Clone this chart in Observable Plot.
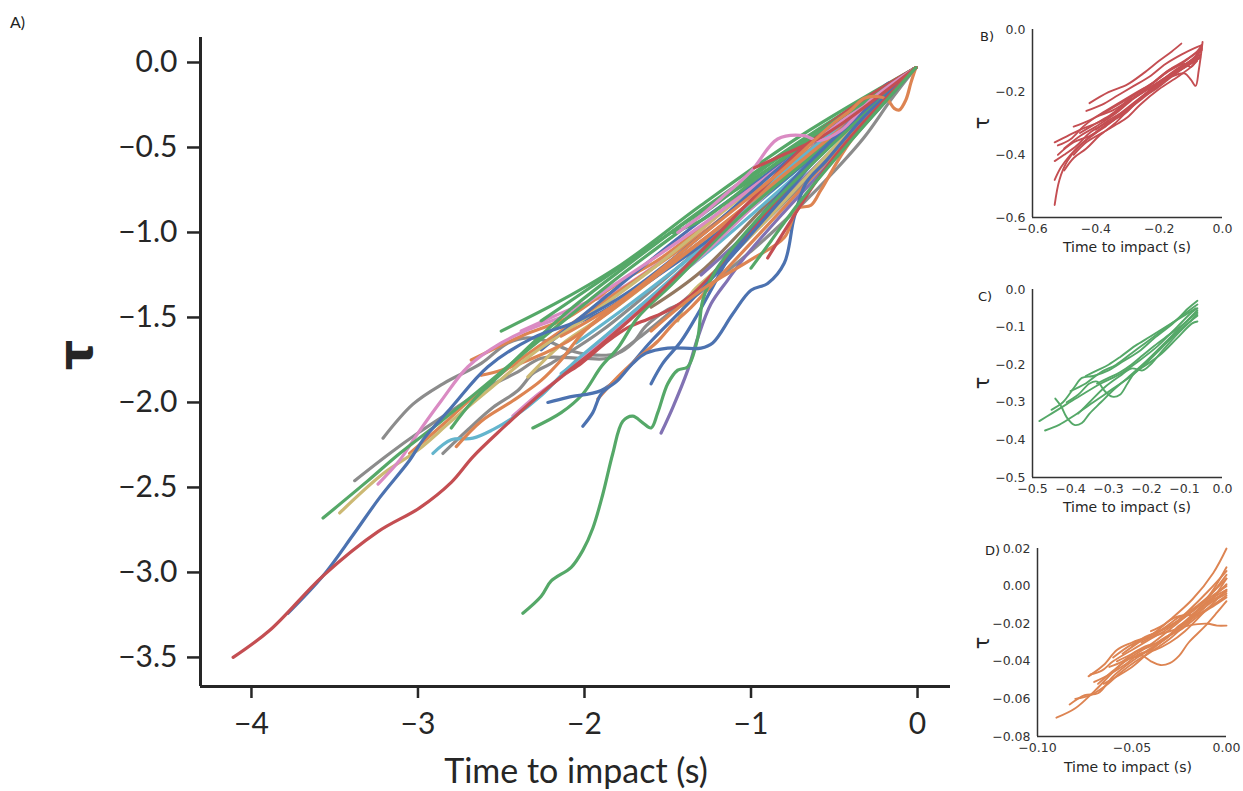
<!DOCTYPE html>
<html><head><meta charset="utf-8">
<script src="https://cdn.jsdelivr.net/npm/d3@7/dist/d3.min.js"></script>
<script src="https://cdn.jsdelivr.net/npm/@observablehq/plot@0.6/dist/plot.umd.min.js"></script>
<style>
body{margin:0;background:#fff;}
#wrap{position:relative;width:1243px;height:791px;overflow:hidden;background:#fff;}
.pane{position:absolute;}
.pane svg{overflow:visible;}
.lab{position:absolute;transform:translate(-50%,-50%);white-space:nowrap;line-height:1;color:#262626;}
.tag{position:absolute;white-space:nowrap;line-height:1;color:#222;}
</style></head><body><div id="wrap"></div>
<script>
// ---------- tick values ----------
const mainTicksX = [-4, -3, -2, -1, 0];
const mainTicksY = [0, -0.5, -1, -1.5, -2, -2.5, -3, -3.5];
const bTicks = [-0.6, -0.4, -0.2, 0];
const cTicks = [-0.5, -0.4, -0.3, -0.2, -0.1, 0];
const dTicksX = [-0.1, -0.05, 0];
const dTicksY = [0.02, 0, -0.02, -0.04, -0.06, -0.08];

// ---------- panel A trajectories [time to impact, tau] ----------
const red1 = [[-4.11,-3.50],[-3.89,-3.34],[-3.57,-3.02],[-3.24,-2.76],[-2.99,-2.62],[-2.80,-2.47],[-2.67,-2.32],[-2.49,-2.15],[-2.31,-1.99],[-2.14,-1.85],[-1.90,-1.66],[-1.60,-1.40],[-1.30,-1.11],[-0.94,-0.75],[-0.58,-0.40],[-0.28,-0.19],[-0.01,-0.03]];
const blue1 = [[-3.78,-3.24],[-3.57,-3.02],[-3.39,-2.78],[-3.23,-2.56],[-3.05,-2.34],[-2.97,-2.22],[-2.80,-2.03],[-2.58,-1.79],[-2.31,-1.62],[-2.04,-1.52],[-1.72,-1.34],[-1.30,-1.02],[-0.82,-0.61],[-0.40,-0.28],[-0.01,-0.03]];
const green1 = [[-3.57,-2.68],[-3.30,-2.46],[-3.11,-2.30],[-2.86,-2.11],[-2.61,-1.91],[-2.34,-1.69],[-2.10,-1.50],[-1.78,-1.25],[-1.30,-0.90],[-0.82,-0.55],[-0.40,-0.28],[-0.01,-0.03]];
const olive1 = [[-3.47,-2.65],[-3.21,-2.42],[-3.00,-2.28],[-2.80,-2.11],[-2.58,-1.93],[-2.32,-1.72],[-2.02,-1.52],[-1.60,-1.22],[-1.12,-0.84],[-0.58,-0.43],[-0.01,-0.03]];
const gray1 = [[-3.38,-2.46],[-3.17,-2.30],[-3.00,-2.18],[-2.80,-2.05],[-2.58,-1.91],[-2.40,-1.82],[-2.26,-1.74],[-2.02,-1.74],[-1.86,-1.74],[-1.77,-1.69],[-1.66,-1.61],[-1.51,-1.49],[-1.30,-1.31],[-0.94,-0.96],[-0.52,-0.55],[-0.01,-0.03]];
const pink1 = [[-3.24,-2.48],[-3.11,-2.34],[-3.00,-2.18],[-2.86,-1.99],[-2.70,-1.79],[-2.50,-1.65],[-2.31,-1.56],[-2.10,-1.48],[-1.78,-1.28],[-1.30,-0.96],[-0.70,-0.52],[-0.01,-0.03]];
const gray2 = [[-3.21,-2.21],[-3.03,-2.01],[-2.85,-1.89],[-2.62,-1.77],[-2.46,-1.65],[-2.34,-1.62],[-2.22,-1.64],[-2.10,-1.69],[-1.96,-1.72],[-1.80,-1.71],[-1.71,-1.65],[-1.63,-1.55],[-1.51,-1.46],[-1.36,-1.39],[-1.00,-1.11],[-0.70,-0.84],[-0.50,-0.64],[-0.32,-0.44],[-0.16,-0.22],[-0.01,-0.03]];
const cyan1 = [[-2.91,-2.30],[-2.80,-2.22],[-2.67,-2.21],[-2.55,-2.16],[-2.43,-2.09],[-2.26,-1.96],[-2.08,-1.78],[-1.84,-1.58],[-1.42,-1.22],[-0.82,-0.66],[-0.01,-0.03]];
const gray3 = [[-2.85,-2.30],[-2.70,-2.16],[-2.55,-2.03],[-2.40,-1.93],[-2.31,-1.83],[-2.20,-1.77],[-1.90,-1.58],[-1.42,-1.19],[-0.82,-0.66],[-0.01,-0.03]];
const orange1 = [[-2.77,-2.26],[-2.62,-2.11],[-2.43,-1.99],[-2.26,-1.87],[-2.14,-1.75],[-2.01,-1.59],[-1.78,-1.40],[-1.30,-1.05],[-0.70,-0.58],[-0.01,-0.03]];
const green2 = [[-2.80,-2.15],[-2.67,-1.99],[-2.50,-1.83],[-2.31,-1.65],[-2.07,-1.44],[-1.78,-1.22],[-1.30,-0.87],[-0.70,-0.46],[-0.01,-0.03]];
const green3 = [[-2.31,-2.15],[-2.14,-2.06],[-2.01,-1.95],[-1.90,-1.79],[-1.80,-1.68],[-1.68,-1.50],[-1.48,-1.31],[-1.06,-0.90],[-0.52,-0.46],[-0.01,-0.03]];
const blue2 = [[-2.01,-2.14],[-1.95,-2.06],[-1.90,-1.95],[-1.80,-1.87],[-1.71,-1.77],[-1.63,-1.71],[-1.50,-1.68],[-1.30,-1.68],[-1.23,-1.65],[-1.11,-1.48],[-1.00,-1.34],[-0.90,-1.30],[-0.80,-1.18],[-0.74,-0.91],[-0.67,-0.71],[-0.55,-0.58],[-0.34,-0.34],[-0.01,-0.03]];
const blue3 = [[-2.22,-2.00],[-2.10,-1.97],[-1.90,-1.93],[-1.78,-1.84],[-1.60,-1.64],[-1.30,-1.34],[-0.82,-0.81],[-0.40,-0.34],[-0.01,-0.03]];
const blue4 = [[-1.60,-1.89],[-1.53,-1.77],[-1.42,-1.64],[-1.32,-1.48],[-1.23,-1.32],[-1.14,-1.16],[-0.94,-0.90],[-0.58,-0.52],[-0.01,-0.03]];
const purple1 = [[-1.54,-2.18],[-1.47,-2.03],[-1.38,-1.81],[-1.32,-1.62],[-1.24,-1.42],[-1.14,-1.28],[-1.05,-1.16],[-0.82,-0.90],[-0.46,-0.52],[-0.01,-0.03]];
const green4 = [[-2.37,-3.24],[-2.26,-3.14],[-2.20,-3.05],[-2.08,-2.97],[-2.01,-2.87],[-1.95,-2.74],[-1.89,-2.54],[-1.83,-2.30],[-1.77,-2.11],[-1.71,-2.08],[-1.65,-2.12],[-1.60,-2.15],[-1.56,-2.06],[-1.50,-1.89],[-1.44,-1.81],[-1.38,-1.79],[-1.32,-1.62],[-1.29,-1.40],[-1.21,-1.22],[-0.94,-0.90],[-0.52,-0.49],[-0.01,-0.03]];
const orange2 = [[-1.92,-1.98],[-1.80,-1.85],[-1.68,-1.74],[-1.56,-1.64],[-1.47,-1.54],[-1.36,-1.44],[-1.18,-1.25],[-0.76,-0.81],[-0.40,-0.43],[-0.01,-0.03]];
const green5 = [[-1.47,-1.00],[-1.30,-0.93],[-1.17,-0.84],[-0.94,-0.66],[-0.58,-0.40],[-0.28,-0.21],[-0.01,-0.03]];
const pink2 = [[-1.44,-1.00],[-1.30,-0.90],[-1.17,-0.79],[-1.00,-0.64],[-0.84,-0.45],[-0.68,-0.43],[-0.60,-0.46],[-0.46,-0.40],[-0.28,-0.22],[-0.01,-0.03]];
const red2 = [[-0.98,-0.62],[-0.80,-0.54],[-0.60,-0.45],[-0.44,-0.35],[-0.22,-0.19],[-0.01,-0.03]];
const orange3 = [[-2.14,-1.61],[-1.78,-1.40],[-1.30,-1.02],[-0.82,-0.64],[-0.52,-0.37],[-0.40,-0.28],[-0.32,-0.21],[-0.24,-0.20],[-0.18,-0.22],[-0.14,-0.27],[-0.11,-0.28],[-0.07,-0.22],[-0.04,-0.12],[-0.01,-0.03]];
const blue5 = [[-2.26,-1.69],[-1.90,-1.40],[-1.30,-0.93],[-0.70,-0.52],[-0.34,-0.28],[-0.22,-0.16],[-0.17,-0.12],[-0.14,-0.13]];
const orange4 = [[-1.60,-1.58],[-1.30,-1.34],[-1.00,-1.16],[-0.80,-1.03],[-0.72,-0.86],[-0.64,-0.84],[-0.58,-0.75],[-0.40,-0.46],[-0.01,-0.03]];
const red3 = [[-0.90,-1.15],[-0.76,-0.93],[-0.58,-0.66],[-0.34,-0.37],[-0.01,-0.03]];
const green6 = [[-1.00,-1.21],[-0.88,-1.05],[-0.70,-0.81],[-0.40,-0.46],[-0.01,-0.03]];
const cyan2 = [[-2.14,-1.83],[-1.96,-1.69],[-1.77,-1.52],[-1.60,-1.38],[-1.47,-1.28],[-1.18,-1.05],[-0.70,-0.64],[-0.01,-0.03]];
const cyan3 = [[-2.05,-1.65],[-1.78,-1.46],[-1.42,-1.19],[-0.94,-0.81],[-0.01,-0.03]];
const red4 = [[-2.26,-1.95],[-2.14,-1.85],[-2.02,-1.77],[-1.86,-1.64],[-1.74,-1.56],[-1.62,-1.51],[-1.50,-1.46],[-1.36,-1.37],[-1.18,-1.19],[-0.70,-0.66],[-0.01,-0.03]];
const green8 = [[-2.50,-1.58],[-2.14,-1.40],[-1.78,-1.19],[-1.30,-0.84],[-0.70,-0.43],[-0.01,-0.03]];
const olive2 = [[-2.34,-1.85],[-2.14,-1.66],[-1.84,-1.46],[-1.44,-1.16],[-0.94,-0.78],[-0.01,-0.03]];
const olive3 = [[-1.44,-1.52],[-1.36,-1.36],[-1.23,-1.24],[-0.94,-0.96],[-0.46,-0.46],[-0.01,-0.03]];
const pink3 = [[-2.38,-1.58],[-2.20,-1.50],[-2.01,-1.42],[-1.80,-1.34],[-1.42,-1.08],[-0.94,-0.69],[-0.01,-0.03]];
const pink4 = [[-2.43,-2.08],[-2.29,-1.96],[-2.14,-1.85],[-1.96,-1.69],[-1.72,-1.49],[-1.30,-1.14],[-0.76,-0.64],[-0.01,-0.03]];
const orange5 = [[-2.68,-1.75],[-2.38,-1.61],[-2.10,-1.50],[-1.80,-1.30],[-1.54,-1.15],[-1.06,-0.78],[-0.52,-0.37],[-0.01,-0.03]];
const orange6 = [[-2.62,-1.84],[-2.50,-1.81],[-2.31,-1.74],[-2.10,-1.64],[-1.95,-1.54],[-1.60,-1.28],[-1.06,-0.87],[-0.01,-0.03]];
const orange7 = [[-3.05,-2.30],[-2.85,-2.13],[-2.65,-1.95],[-2.46,-1.80],[-2.26,-1.66],[-1.95,-1.45],[-1.40,-1.08],[-0.70,-0.55],[-0.01,-0.03]];
const green7 = [[-2.26,-1.52],[-1.90,-1.28],[-1.60,-1.08],[-1.30,-0.88],[-0.82,-0.58],[-0.40,-0.29],[-0.01,-0.03]];
const blue6 = [[-2.07,-1.54],[-1.90,-1.47],[-1.60,-1.28],[-1.18,-0.99],[-0.70,-0.61],[-0.01,-0.03]];
const brown1 = [[-1.60,-1.44],[-1.30,-1.23],[-0.82,-0.75],[-0.01,-0.03]];
const purple2 = [[-1.30,-1.25],[-0.94,-0.93],[-0.58,-0.58],[-0.01,-0.03]];

// series key -> trajectory (keys are palette slots, seaborn "deep" order)
const mainSeries = [
  ["k7", gray1], ["k7", gray2], ["k7", gray3], ["k5", brown1], ["k4", purple2],
  ["k9", cyan2], ["k9", cyan3], ["k8", olive2], ["k8", olive3], ["k0", blue6],
  ["k3", red4], ["k6", pink3], ["k6", pink4], ["k1", orange5], ["k2", green8],
  ["k1", orange6], ["k1", orange7], ["k2", green7], ["k0", blue5],
  ["k8", olive1], ["k6", pink1], ["k9", cyan1], ["k1", orange1], ["k2", green2],
  ["k2", green3], ["k0", blue3], ["k0", blue4], ["k1", orange2], ["k4", purple1],
  ["k2", green4], ["k0", blue2], ["k2", green1], ["k0", blue1], ["k3", red1],
  ["k2", green5], ["k6", pink2], ["k3", red2], ["k1", orange3], ["k1", orange4],
  ["k3", red3], ["k2", green6]
];
const seriesKeys = ["k0","k1","k2","k3","k4","k5","k6","k7","k8","k9"];
const palette = ["#4C72B0","#DD8452","#55A868","#C44E52","#8172B3","#937860","#DA8BC3","#8C8C8C","#CCB974","#64B5CD"];

// ---------- panel B trajectories ----------
const b1 = [[-0.53,-0.56],[-0.515,-0.48],[-0.49,-0.42],[-0.45,-0.37],[-0.40,-0.33],[-0.35,-0.29],[-0.30,-0.25],[-0.25,-0.21],[-0.20,-0.17],[-0.15,-0.13],[-0.10,-0.10],[-0.07,-0.08]];
const b2 = [[-0.53,-0.48],[-0.51,-0.44],[-0.48,-0.40],[-0.44,-0.36],[-0.39,-0.32],[-0.33,-0.28],[-0.27,-0.23],[-0.21,-0.18],[-0.15,-0.14],[-0.10,-0.11],[-0.07,-0.09]];
const b3 = [[-0.53,-0.42],[-0.50,-0.40],[-0.46,-0.37],[-0.42,-0.33],[-0.37,-0.30],[-0.31,-0.27],[-0.26,-0.22],[-0.20,-0.17],[-0.14,-0.13],[-0.09,-0.10],[-0.075,-0.09]];
const b4 = [[-0.53,-0.36],[-0.49,-0.34],[-0.45,-0.32],[-0.40,-0.30],[-0.36,-0.28],[-0.32,-0.25],[-0.27,-0.21],[-0.22,-0.18],[-0.16,-0.14],[-0.11,-0.11],[-0.07,-0.07]];
const b5 = [[-0.52,-0.37],[-0.48,-0.35],[-0.44,-0.31],[-0.40,-0.28],[-0.35,-0.26],[-0.30,-0.23],[-0.25,-0.20],[-0.19,-0.16],[-0.13,-0.12],[-0.09,-0.09],[-0.065,-0.06]];
const b6 = [[-0.43,-0.26],[-0.38,-0.24],[-0.33,-0.21],[-0.28,-0.18],[-0.23,-0.15],[-0.18,-0.11],[-0.13,-0.08],[-0.09,-0.06],[-0.065,-0.05]];
const b7 = [[-0.42,-0.235],[-0.36,-0.20],[-0.30,-0.175],[-0.25,-0.14],[-0.20,-0.10],[-0.16,-0.07],[-0.13,-0.045]];
const b8 = [[-0.50,-0.38],[-0.45,-0.34],[-0.40,-0.31],[-0.34,-0.27],[-0.28,-0.22],[-0.22,-0.18],[-0.16,-0.15],[-0.12,-0.14],[-0.10,-0.16],[-0.085,-0.18],[-0.075,-0.13],[-0.063,-0.04]];
const b9 = [[-0.47,-0.40],[-0.43,-0.36],[-0.38,-0.33],[-0.33,-0.30],[-0.30,-0.28],[-0.26,-0.24],[-0.20,-0.19],[-0.14,-0.15],[-0.10,-0.12],[-0.08,-0.10]];
const b10 = [[-0.45,-0.33],[-0.40,-0.30],[-0.35,-0.27],[-0.28,-0.21],[-0.22,-0.17],[-0.17,-0.13],[-0.12,-0.11],[-0.10,-0.12],[-0.09,-0.11],[-0.075,-0.07]];
const b11 = [[-0.40,-0.32],[-0.36,-0.29],[-0.31,-0.26],[-0.26,-0.22],[-0.21,-0.19],[-0.16,-0.15],[-0.12,-0.12],[-0.08,-0.08],[-0.066,-0.055]];
const b12 = [[-0.47,-0.31],[-0.42,-0.29],[-0.37,-0.26],[-0.32,-0.23],[-0.27,-0.20],[-0.22,-0.17],[-0.17,-0.13],[-0.12,-0.10],[-0.08,-0.07],[-0.066,-0.05]];
const b13 = [[-0.52,-0.40],[-0.47,-0.36],[-0.42,-0.34],[-0.37,-0.31],[-0.32,-0.27],[-0.27,-0.23],[-0.22,-0.19],[-0.17,-0.15],[-0.12,-0.12],[-0.09,-0.10],[-0.07,-0.085]];
const b14 = [[-0.50,-0.45],[-0.47,-0.41],[-0.43,-0.38],[-0.39,-0.34],[-0.34,-0.30],[-0.29,-0.25],[-0.24,-0.21],[-0.19,-0.17],[-0.14,-0.13],[-0.10,-0.10],[-0.07,-0.07]];
const b15 = [[-0.38,-0.27],[-0.33,-0.24],[-0.28,-0.21],[-0.23,-0.18],[-0.18,-0.14],[-0.13,-0.11],[-0.09,-0.08],[-0.065,-0.065]];
const bSeries = [b1,b2,b3,b4,b5,b6,b7,b8,b9,b10,b11,b12,b13,b14,b15];

// ---------- panel C trajectories ----------
const c1 = [[-0.467,-0.375],[-0.43,-0.36],[-0.39,-0.335],[-0.34,-0.30],[-0.29,-0.265],[-0.24,-0.23],[-0.20,-0.195],[-0.16,-0.155],[-0.12,-0.115],[-0.085,-0.085],[-0.066,-0.07]];
const c2 = [[-0.482,-0.35],[-0.45,-0.33],[-0.41,-0.305],[-0.37,-0.28],[-0.32,-0.25],[-0.27,-0.225],[-0.22,-0.19],[-0.17,-0.15],[-0.12,-0.10],[-0.08,-0.06],[-0.066,-0.05]];
const c3 = [[-0.44,-0.29],[-0.425,-0.31],[-0.41,-0.34],[-0.39,-0.36],[-0.37,-0.355],[-0.35,-0.33],[-0.32,-0.30],[-0.29,-0.27],[-0.25,-0.235],[-0.20,-0.19],[-0.15,-0.14],[-0.10,-0.09],[-0.066,-0.055]];
const c4 = [[-0.45,-0.32],[-0.42,-0.30],[-0.39,-0.26],[-0.37,-0.235],[-0.34,-0.23],[-0.30,-0.215],[-0.26,-0.19],[-0.22,-0.165],[-0.18,-0.13],[-0.13,-0.09],[-0.09,-0.05],[-0.066,-0.03]];
const c5 = [[-0.41,-0.30],[-0.38,-0.28],[-0.35,-0.25],[-0.33,-0.245],[-0.31,-0.27],[-0.29,-0.285],[-0.27,-0.28],[-0.25,-0.25],[-0.23,-0.22],[-0.20,-0.20],[-0.16,-0.17],[-0.12,-0.13],[-0.08,-0.09],[-0.066,-0.085]];
const c6 = [[-0.40,-0.27],[-0.36,-0.25],[-0.32,-0.22],[-0.28,-0.20],[-0.24,-0.17],[-0.20,-0.14],[-0.16,-0.11],[-0.12,-0.08],[-0.08,-0.05],[-0.066,-0.04]];
const c7 = [[-0.38,-0.33],[-0.35,-0.30],[-0.31,-0.26],[-0.27,-0.23],[-0.24,-0.21],[-0.21,-0.215],[-0.19,-0.20],[-0.16,-0.165],[-0.12,-0.12],[-0.08,-0.08],[-0.066,-0.065]];
const c8 = [[-0.36,-0.23],[-0.33,-0.215],[-0.30,-0.20],[-0.27,-0.18],[-0.23,-0.15],[-0.19,-0.125],[-0.15,-0.10],[-0.11,-0.075],[-0.07,-0.05]];
const c9 = [[-0.33,-0.25],[-0.30,-0.235],[-0.27,-0.22],[-0.24,-0.20],[-0.21,-0.175],[-0.18,-0.15],[-0.14,-0.12],[-0.10,-0.09],[-0.066,-0.06]];
const cSeries = [c1,c2,c3,c4,c5,c6,c7,c8,c9];

// ---------- panel D trajectories ----------
const d1 = [[-0.090,-0.070],[-0.080,-0.065],[-0.070,-0.056],[-0.055,-0.041],[-0.040,-0.031],[-0.025,-0.019],[-0.010,-0.007],[0.000,0.000]];
const d2 = [[-0.083,-0.063],[-0.075,-0.058],[-0.068,-0.057],[-0.060,-0.048],[-0.050,-0.040],[-0.035,-0.030],[-0.020,-0.017],[-0.010,-0.008],[0.000,-0.002]];
const d3 = [[-0.073,-0.048],[-0.065,-0.042],[-0.058,-0.034],[-0.050,-0.030],[-0.040,-0.026],[-0.030,-0.018],[-0.018,-0.007],[-0.007,0.007],[0.000,0.020]];
const d4 = [[-0.072,-0.047],[-0.066,-0.045],[-0.060,-0.040],[-0.050,-0.034],[-0.040,-0.028],[-0.030,-0.022],[-0.020,-0.013],[-0.010,-0.003],[0.000,0.008]];
const d5 = [[-0.060,-0.038],[-0.050,-0.031],[-0.040,-0.027],[-0.030,-0.024],[-0.020,-0.021],[-0.010,-0.020],[-0.005,-0.021],[0.000,-0.021]];
const d6 = [[-0.068,-0.052],[-0.060,-0.045],[-0.052,-0.039],[-0.045,-0.037],[-0.040,-0.040],[-0.035,-0.042],[-0.030,-0.041],[-0.025,-0.037],[-0.020,-0.030],[-0.012,-0.022],[-0.005,-0.014],[0.000,-0.008]];
const d7 = [[-0.065,-0.052],[-0.058,-0.048],[-0.050,-0.043],[-0.042,-0.036],[-0.035,-0.030],[-0.025,-0.022],[-0.015,-0.013],[-0.005,-0.004],[0.000,0.001]];
const d8 = [[-0.055,-0.036],[-0.048,-0.031],[-0.040,-0.026],[-0.030,-0.021],[-0.022,-0.016],[-0.012,-0.008],[-0.004,0.000],[0.000,0.004]];
const d9 = [[-0.050,-0.032],[-0.043,-0.027],[-0.035,-0.024],[-0.028,-0.020],[-0.020,-0.015],[-0.010,-0.006],[0.000,0.010]];
const d10 = [[-0.062,-0.043],[-0.055,-0.040],[-0.048,-0.035],[-0.040,-0.032],[-0.032,-0.027],[-0.024,-0.023],[-0.015,-0.016],[-0.006,-0.010],[0.000,-0.006]];
const d11 = [[-0.045,-0.030],[-0.038,-0.026],[-0.030,-0.020],[-0.024,-0.016],[-0.018,-0.015],[-0.010,-0.009],[0.000,-0.003]];
const d12 = [[-0.080,-0.060],[-0.072,-0.058],[-0.064,-0.053],[-0.056,-0.046],[-0.048,-0.040],[-0.040,-0.035],[-0.030,-0.028],[-0.020,-0.019],[-0.010,-0.010],[0.000,-0.004]];
const d13 = [[-0.058,-0.040],[-0.050,-0.036],[-0.043,-0.032],[-0.036,-0.030],[-0.028,-0.025],[-0.020,-0.018],[-0.010,-0.010],[0.000,0.004]];
const d14 = [[-0.040,-0.024],[-0.034,-0.021],[-0.028,-0.017],[-0.022,-0.015],[-0.015,-0.010],[-0.008,-0.004],[0.000,0.006]];
const d15 = [[-0.070,-0.051],[-0.062,-0.047],[-0.054,-0.042],[-0.046,-0.036],[-0.038,-0.034],[-0.030,-0.030],[-0.022,-0.024],[-0.012,-0.014],[0.000,-0.002]];
const d16 = [[-0.048,-0.038],[-0.040,-0.033],[-0.032,-0.028],[-0.025,-0.021],[-0.018,-0.017],[-0.010,-0.012],[0.000,-0.005]];
const dSeries = [d1,d2,d3,d4,d5,d6,d7,d8,d9,d10,d11,d12,d13,d14,d15,d16];

// ---------- helpers ----------
function fmt(digits) {
  return v => {
    const s = Math.abs(v).toFixed(digits);
    return (v < 0 && Number(s) !== 0 ? "\u2212" : "") + s;
  };
}
const wrap = document.getElementById("wrap");
function place(el, left, top) {
  const d = document.createElement("div");
  d.className = "pane"; d.style.left = left + "px"; d.style.top = top + "px";
  d.appendChild(el); wrap.appendChild(d);
}
function label(text, cx, cy, css) {
  const d = document.createElement("div");
  d.className = "lab"; d.textContent = text;
  d.style.left = cx + "px"; d.style.top = cy + "px";
  Object.assign(d.style, css); wrap.appendChild(d);
}
function tag(text, left, top, css) {
  const d = document.createElement("div");
  d.className = "tag"; d.textContent = text;
  d.style.left = left + "px"; d.style.top = top + "px";
  Object.assign(d.style, css); wrap.appendChild(d);
}

// ---------- panel A ----------
const mainRows = mainSeries.flatMap(([c, pts], k) => pts.map(([x, y]) => ({k, c, x, y})));
const mxd = [-4.306, 0.198], myd = [-3.671, 0.147];
const mainPlot = Plot.plot({
  width: 960, height: 791,
  marginLeft: 200, marginRight: 10, marginTop: 37, marginBottom: 105,
  x: {domain: mxd}, y: {domain: myd},
  color: {type: "ordinal", domain: seriesKeys, range: palette},
  style: {fontFamily: "Lato, 'Open Sans', sans-serif", background: "transparent", color: "#262626"},
  marks: [
    Plot.line(mainRows, {x: "x", y: "y", z: "k", stroke: "c", strokeWidth: 3.2, curve: "catmull-rom", strokeLinecap: "round"}),
    Plot.ruleX([mxd[0]], {stroke: "#262626", strokeWidth: 3}),
    Plot.ruleY([myd[0]], {stroke: "#262626", strokeWidth: 3}),
    Plot.axisX(mainTicksX, {tickSize: 12, tickPadding: 14, fontSize: 30, strokeWidth: 2.5, stroke: "#262626", fill: "#262626", label: null, tickFormat: fmt(0)}),
    Plot.axisY(mainTicksY, {tickSize: 13, tickPadding: 10, fontSize: 30, strokeWidth: 2.5, stroke: "#262626", fill: "#262626", label: null, tickFormat: fmt(1)})
  ]
});
place(mainPlot, 0, 0);
label("Time to impact (s)", 576, 770, {fontFamily: "Lato, sans-serif", fontSize: "34px"});
label("τ", 75, 355, {fontFamily: "'DejaVu Sans', sans-serif", fontSize: "48px", fontWeight: "bold", transform: "translate(-50%,-50%) rotate(-90deg)"});
tag("A)", 10, 14, {fontFamily: "Lato, sans-serif", fontSize: "16px"});

// ---------- panels B, C, D ----------
function small(series, color, opts) {
  const rows = series.flatMap((pts, k) => pts.map(([x, y]) => ({k, x, y})));
  const p = Plot.plot({
    width: 283, height: opts.h,
    marginLeft: opts.ml, marginRight: opts.mr, marginTop: opts.mt, marginBottom: opts.mb,
    x: {domain: opts.xd}, y: {domain: opts.yd},
    style: {fontFamily: "'DejaVu Sans', sans-serif", background: "transparent", color: "#333"},
    marks: [
      Plot.line(rows, {x: "x", y: "y", z: "k", stroke: color, strokeWidth: 1.9, curve: "catmull-rom"}),
      Plot.ruleX([opts.xd[0]], {stroke: "#333", strokeWidth: 1.5}),
      Plot.ruleY([opts.yd[0]], {stroke: "#333", strokeWidth: 1.5}),
      Plot.axisX(opts.xt, {tickSize: 0, tickPadding: 7, fontSize: 12.5, fill: "#333", label: null, tickFormat: fmt(opts.fx)}),
      Plot.axisY(opts.yt, {tickSize: 0, tickPadding: 7, fontSize: 12.5, fill: "#333", label: null, tickFormat: fmt(opts.fy)})
    ]
  });
  place(p, 960, opts.top);
}
small(bSeries, "#C44E52", {top: 0, h: 262, ml: 72, mr: 21, mt: 29, mb: 45, xd: [-0.6, 0], yd: [-0.6, 0], xt: bTicks, yt: bTicks, fx: 1, fy: 1});
small(cSeries, "#55A868", {top: 262, h: 262, ml: 72, mr: 21, mt: 27, mb: 47, xd: [-0.5, 0], yd: [-0.5, 0], xt: cTicks, yt: cTicks, fx: 1, fy: 1});
small(dSeries, "#DD8452", {top: 524, h: 267, ml: 77, mr: 17, mt: 24, mb: 55, xd: [-0.1, 0], yd: [-0.08, 0.02], xt: dTicksX, yt: dTicksY, fx: 2, fy: 2});

const smallLab = {fontFamily: "'DejaVu Sans', sans-serif", fontSize: "14px", color: "#262626"};
const smallTau = {fontFamily: "'DejaVu Sans', sans-serif", fontSize: "21px", color: "#262626", transform: "translate(-50%,-50%) rotate(-90deg)"};
const smallTag = {fontFamily: "'DejaVu Sans', sans-serif", fontSize: "13px", color: "#222"};
label("Time to impact (s)", 1127, 247, smallLab);
label("Time to impact (s)", 1127, 507, smallLab);
label("Time to impact (s)", 1128, 767, smallLab);
label("τ", 982, 123, smallTau);
label("τ", 982, 383, smallTau);
label("τ", 982, 643, smallTau);
tag("B)", 980, 30, smallTag);
tag("C)", 978, 290, smallTag);
tag("D)", 985, 544, smallTag);
</script></body></html>
